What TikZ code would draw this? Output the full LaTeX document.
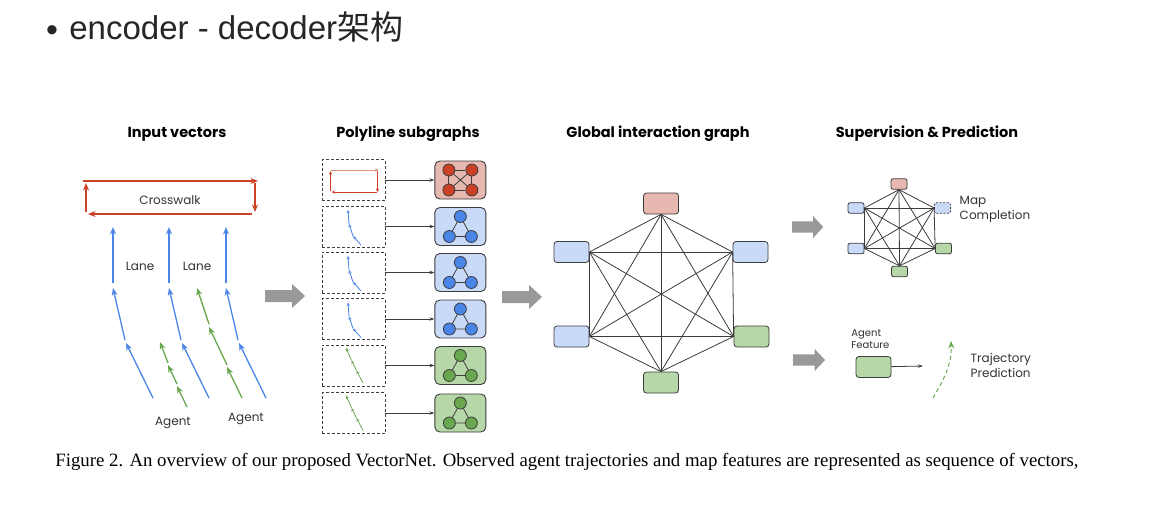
\documentclass[tikz,border=0pt]{standalone}
\usepackage{fontspec}
\setmainfont{Liberation Serif}
\newfontfamily\headfont{Liberation Sans}
\newfontfamily\cjk{Noto Sans CJK SC}
\newfontfamily\figfont{Poppins}
\usetikzlibrary{arrows.meta,positioning}

\definecolor{cwred}{HTML}{CC4125}
\definecolor{lanebl}{HTML}{4A86E8}
\definecolor{agentgr}{HTML}{6AA84F}
\definecolor{redfill}{HTML}{E6B8AF}
\definecolor{bluefill}{HTML}{C9DAF8}
\definecolor{greenfill}{HTML}{B6D7A8}
\definecolor{edgegray}{HTML}{3C3C3C}
\definecolor{bigarrow}{HTML}{999999}

\tikzset{
  fatarrow/.pic = {\fill[bigarrow] (0,-6) -- (27,-6) -- (27,-12) -- (40,0) -- (27,12) -- (27,6) -- (0,6) -- cycle;}
}

\begin{document}
\begin{tikzpicture}[x=1pt, y=-1pt, line width=0.8pt,
  vec/.style = {-{Stealth[length=7.5pt,width=6pt]}, line width=1.3pt},
  minivec/.style = {-{Stealth[length=3.5pt,width=3.2pt]}, line width=0.8pt},
  lanevec/.style = {vec, lanebl},
  agentvec/.style = {vec, agentgr},
  cwvec/.style = {vec, cwred},
  title/.style = {font=\figfont\bfseries\fontsize{14.5}{16}\selectfont},
  lbl/.style = {font=\figfont\fontsize{12}{14.5}\selectfont, text=black!80, align=left},
  dashbox/.style = {draw=black!75, dash pattern=on 3pt off 2pt, minimum width=63pt, minimum height=41pt},
  sub/.style = {draw=edgegray, rounded corners=5pt, minimum width=51pt, minimum height=38pt, line width=0.9pt},
  dot/.style = {circle, draw=edgegray, minimum size=12pt, inner sep=0pt, line width=0.8pt},
  glob/.style = {draw=edgegray, rounded corners=3pt, minimum width=35pt, minimum height=21pt},
  small/.style = {draw=edgegray, rounded corners=2pt, minimum width=16pt, minimum height=10.5pt},
  edge/.style = {draw=edgegray, line width=0.8pt},
  feed/.style = {-{Stealth[length=5pt,width=3.5pt]}, edgegray, line width=0.8pt}]

  \useasboundingbox (0,0) rectangle (1158,509);
  \fill[white] (0,0) rectangle (1158,509);

  % header and caption
  \node[font=\headfont\fontsize{34}{34}\selectfont, text=black!85, inner sep=0pt] (bul) at (52,34) {\textbullet};
  \node[anchor=west, font=\headfont\fontsize{33}{35}\selectfont, text=black!85, inner sep=0pt] (head) at (69,27) {encoder - decoder{\cjk 架构}};
  \node[anchor=west, font=\fontsize{18.8}{22}\selectfont, inner sep=0pt] (cap) at (55,462) {Figure 2. An overview of our proposed VectorNet. Observed agent trajectories and map features are represented as sequence of vectors,};

  % titles
  \node[title] (t1) at (177,134) {Input vectors};
  \node[title] (t2) at (408,134) {Polyline subgraphs};
  \node[title] (t3) at (658,134) {Global interaction graph};
  \node[title] (t4) at (927,134) {Supervision \& Prediction};

  % input vectors
  \coordinate (cwa) at (83,181);  \coordinate (cwb) at (258,181);
  \coordinate (cwc) at (255,183); \coordinate (cwd) at (255,212);
  \coordinate (cwe) at (252,214); \coordinate (cwf) at (88,214);
  \coordinate (cwg) at (86,212);  \coordinate (cwh) at (86,183);
  \draw[cwvec] (cwa) -- (cwb);
  \draw[cwvec] (cwc) -- (cwd);
  \draw[cwvec] (cwe) -- (cwf);
  \draw[cwvec] (cwg) -- (cwh);
  \node[lbl] (cw) at (170,200) {Crosswalk};

  \foreach \k/\dx in {1/0,2/56,3/113} {
    \coordinate (l\k a) at (153+\dx,398);
    \coordinate (l\k b) at (126+\dx,343);
    \coordinate (l\k c) at (125+\dx,340);
    \coordinate (l\k d) at (113+\dx,288);
    \coordinate (l\k e) at (113+\dx,283);
    \coordinate (l\k f) at (113+\dx,227);
    \draw[lanevec] (l\k a) -- (l\k b);
    \draw[lanevec] (l\k c) -- (l\k d);
    \draw[lanevec] (l\k e) -- (l\k f);
  }
  \node[lbl] (lane1) at (140,266) {Lane};
  \node[lbl] (lane2) at (197,266) {Lane};

  \coordinate (a1a) at (187,407); \coordinate (a1b) at (177,386);
  \coordinate (a1c) at (177,384); \coordinate (a1d) at (168,365);
  \coordinate (a1e) at (168,363); \coordinate (a1f) at (160,342);
  \coordinate (a2a) at (242,398); \coordinate (a2b) at (227,367);
  \coordinate (a2c) at (227,365); \coordinate (a2d) at (209,327);
  \coordinate (a2e) at (209,324); \coordinate (a2f) at (197,288);
  \foreach \k in {1,2} {
    \draw[agentvec] (a\k a) -- (a\k b);
    \draw[agentvec] (a\k c) -- (a\k d);
    \draw[agentvec] (a\k e) -- (a\k f);
  }
  \node[lbl] (ag1) at (173,423) {Agent};
  \node[lbl] (ag2) at (246,419) {Agent};

  \pic at (265,296) {fatarrow};

  % polyline subgraphs
  \foreach \r/\y/\fc in {1/180/redfill,2/226.5/bluefill,3/272.5/bluefill,4/319/bluefill,5/365.5/greenfill,6/413/greenfill} {
    \node[dashbox] (d\r) at (353.5,\y) {};
    \node[sub, fill=\fc, right=49pt of d\r] (s\r) {};
    \draw[feed] (d\r) -- (s\r);
  }

  \begin{scope}[shift={(d1)}]
    \coordinate (m1) at (-23,-10); \coordinate (m2) at (25,-10);
    \coordinate (m3) at (24,-9);   \coordinate (m4) at (24,12);
    \coordinate (m5) at (23,12);   \coordinate (m6) at (-22,12);
    \coordinate (m7) at (-23,11);  \coordinate (m8) at (-23,-9);
    \draw[minivec, cwred!60] (m1) -- (m2);
    \draw[minivec, cwred] (m3) -- (m4);
    \draw[minivec, cwred] (m5) -- (m6);
    \draw[minivec, cwred] (m7) -- (m8);
  \end{scope}
  \foreach \r in {2,3,4} {
    \begin{scope}[shift={(d\r)}]
      \coordinate (p\r a) at (7.5,18.5);
      \coordinate (p\r b) at (-0.5,9.5);
      \coordinate (p\r c) at (-4.5,-2.5);
      \coordinate (p\r d) at (-5.5,-16.5);
      \draw[minivec, lanebl] (p\r a) -- (p\r b);
      \draw[minivec, lanebl] (p\r b) -- (p\r c);
      \draw[minivec, lanebl] (p\r c) -- (p\r d);
    \end{scope}
  }
  \foreach \r in {5,6} {
    \begin{scope}[shift={(d\r)}]
      \coordinate (q\r a) at (9.5,17.5);
      \coordinate (q\r b) at (3,5);
      \coordinate (q\r c) at (-2,-5);
      \coordinate (q\r d) at (-7.5,-17.5);
      \draw[minivec, agentgr] (q\r a) -- (q\r b);
      \draw[minivec, agentgr] (q\r b) -- (q\r c);
      \draw[minivec, agentgr] (q\r c) -- (q\r d);
    \end{scope}
  }

  \begin{scope}[shift={(s1)}]
    \node[dot, fill=cwred] (s1a) at (-11.5,-10) {};
    \node[dot, fill=cwred] (s1b) at (11.5,-10) {};
    \node[dot, fill=cwred] (s1c) at (-11.5,10) {};
    \node[dot, fill=cwred] (s1d) at (11.5,10) {};
  \end{scope}
  \draw[edge] (s1a) -- (s1b) -- (s1d) -- (s1c) -- (s1a);
  \draw[edge] (s1a) -- (s1d);
  \draw[edge] (s1b) -- (s1c);
  \foreach \r/\dc in {2/lanebl,3/lanebl,4/lanebl,5/agentgr,6/agentgr} {
    \begin{scope}[shift={(s\r)}]
      \node[dot, fill=\dc] (s\r t) at (0,-10) {};
      \node[dot, fill=\dc] (s\r l) at (-11,10) {};
      \node[dot, fill=\dc] (s\r r) at (11,10) {};
    \end{scope}
    \draw[edge] (s\r t) -- (s\r l) -- (s\r r) -- (s\r t);
  }

  \pic at (502,297) {fatarrow};

  % global interaction graph
  \node[glob, fill=redfill] (gt) at (661,203.5) {};
  \node[glob, fill=bluefill] (glu) at (571.5,252) {};
  \node[glob, fill=bluefill] (gru) at (750.5,252) {};
  \node[glob, fill=bluefill] (gll) at (571.5,336.5) {};
  \node[glob, fill=greenfill] (grl) at (751.5,336.5) {};
  \node[glob, fill=greenfill] (gb) at (661,382.5) {};
  \foreach \a/\i in {gt.south/1,gru.west/2,grl.west/3,gb.north/4,gll.east/5,glu.east/6}
    \foreach \b/\j in {gt.south/1,gru.west/2,grl.west/3,gb.north/4,gll.east/5,glu.east/6}
      {\ifnum\i<\j \draw[edge] (\a) -- (\b);\fi}

  % supervision and prediction
  \pic[xscale=0.78, yscale=0.92] at (792,227) {fatarrow};
  \node[small, fill=redfill] (ht) at (899,184) {};
  \node[small, fill=bluefill] (hlu) at (856,208) {};
  \node[small, fill=bluefill, dash pattern=on 2pt off 1.5pt] (hru) at (942.5,208) {};
  \node[small, fill=bluefill] (hll) at (856,248.5) {};
  \node[small, fill=greenfill] (hrl) at (943.5,248.5) {};
  \node[small, fill=greenfill] (hb) at (899.5,271.5) {};
  \foreach \a/\i in {ht.south/1,hru.west/2,hrl.west/3,hb.north/4,hll.east/5,hlu.east/6}
    \foreach \b/\j in {ht.south/1,hru.west/2,hrl.west/3,hb.north/4,hll.east/5,hlu.east/6}
      {\ifnum\i<\j \draw[edge] (\a) -- (\b);\fi}
  \node[lbl, anchor=west] (mapc) at (956,209.5) {Map\\Completion};

  \pic[xscale=0.8, yscale=0.92] at (793,360) {fatarrow};
  \node[glob, fill=greenfill] (feat) at (873.5,367) {};
  \node[lbl, anchor=south west, font=\figfont\fontsize{10}{12}\selectfont, inner sep=1pt] (featl) at (850,350) {Agent\\Feature};
  \coordinate (featend) at (923,366);
  \draw[feed] (feat) -- (featend);
  \coordinate (trajs) at (933,398);
  \coordinate (traje) at (951,341);
  \draw[agentvec, dash pattern=on 4pt off 3pt, line width=1pt] (trajs) to[out=60, in=-88] (traje);
  \node[lbl, anchor=west] (traj) at (967,365.5) {Trajectory\\Prediction};
\end{tikzpicture}
\end{document}
